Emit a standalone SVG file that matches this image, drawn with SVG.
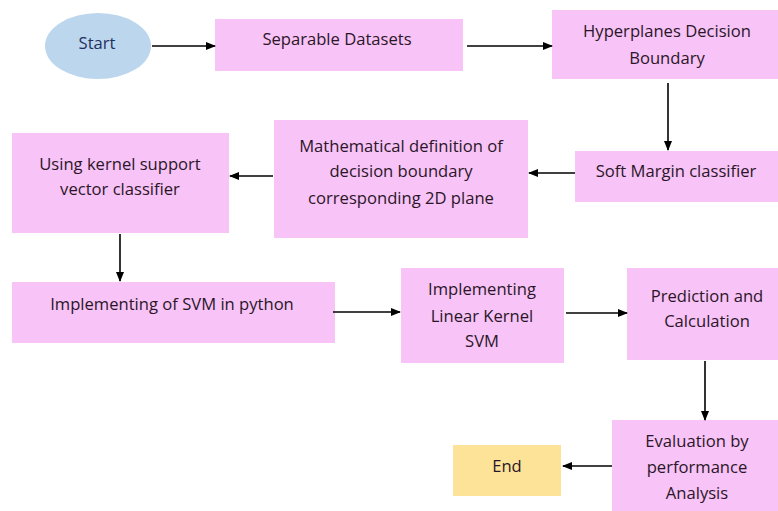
<svg xmlns="http://www.w3.org/2000/svg" width="778" height="511" viewBox="0 0 778 511">
<defs>
<marker id="ah" markerWidth="10" markerHeight="8" refX="9" refY="4" orient="auto" markerUnits="userSpaceOnUse">
<path d="M0,0 L10,4 L0,8 z" fill="#000"/>
</marker>
<style>
.box{fill:#f8c3f6;}
.t{font-family:"Open Sans","Liberation Sans",sans-serif;font-size:16.6px;fill:#2a1628;text-anchor:middle;dominant-baseline:central;}
.c{stroke:#000;stroke-width:1.6;fill:none;marker-end:url(#ah);}
</style>
</defs>
<rect width="778" height="511" fill="#fff"/>
<g id="start">
<ellipse cx="98" cy="46" rx="53" ry="33" fill="#bcd6ee"/>
<text class="t" x="97" y="42" style="fill:#1f3060">Start</text>
</g>
<g id="separable">
<rect class="box" x="215" y="19" width="248" height="52"/>
<text class="t" x="337" y="38">Separable Datasets</text>
</g>
<g id="hyperplanes">
<rect class="box" x="552" y="10" width="226" height="69"/>
<text class="t" x="667" y="30">Hyperplanes Decision</text>
<text class="t" x="667" y="57">Boundary</text>
</g>
<g id="softmargin">
<rect class="box" x="575" y="151" width="203" height="51"/>
<text class="t" x="676" y="170">Soft Margin classifier</text>
</g>
<g id="mathematical">
<rect class="box" x="274" y="120" width="254" height="118"/>
<text class="t" x="401" y="145">Mathematical definition of</text>
<text class="t" x="401" y="170">decision boundary</text>
<text class="t" x="401" y="197">corresponding 2D plane</text>
</g>
<g id="kernel">
<rect class="box" x="12" y="133" width="217" height="100"/>
<text class="t" x="120" y="163">Using kernel support</text>
<text class="t" x="120" y="188">vector classifier</text>
</g>
<g id="implementing">
<rect class="box" x="12" y="282" width="323" height="61"/>
<text class="t" x="172" y="303">Implementing of SVM in python</text>
</g>
<g id="linear">
<rect class="box" x="401" y="268" width="163" height="95"/>
<text class="t" x="482" y="288">Implementing</text>
<text class="t" x="482" y="315">Linear Kernel</text>
<text class="t" x="482" y="340">SVM</text>
</g>
<g id="prediction">
<rect class="box" x="627" y="268" width="151" height="92"/>
<text class="t" x="707" y="295">Prediction and</text>
<text class="t" x="707" y="320">Calculation</text>
</g>
<g id="evaluation">
<rect class="box" x="612" y="420" width="166" height="91"/>
<text class="t" x="697" y="440">Evaluation by</text>
<text class="t" x="697" y="466">performance</text>
<text class="t" x="697" y="492">Analysis</text>
</g>
<g id="end">
<rect x="453" y="445" width="108" height="51" fill="#fde398"/>
<text class="t" x="507" y="465">End</text>
</g>
<g id="connectors">
<line class="c" x1="152" y1="46" x2="215" y2="46"/>
<line class="c" x1="467" y1="46" x2="552" y2="46"/>
<line class="c" x1="668" y1="83" x2="668" y2="150"/>
<line class="c" x1="575" y1="173" x2="529" y2="173"/>
<line class="c" x1="273" y1="176" x2="230" y2="176"/>
<line class="c" x1="120" y1="234" x2="120" y2="281"/>
<line class="c" x1="333" y1="312" x2="400" y2="312"/>
<line class="c" x1="566" y1="313" x2="627" y2="313"/>
<line class="c" x1="705" y1="361" x2="705" y2="420"/>
<line class="c" x1="612" y1="466" x2="563" y2="466"/>
</g>
</svg>
